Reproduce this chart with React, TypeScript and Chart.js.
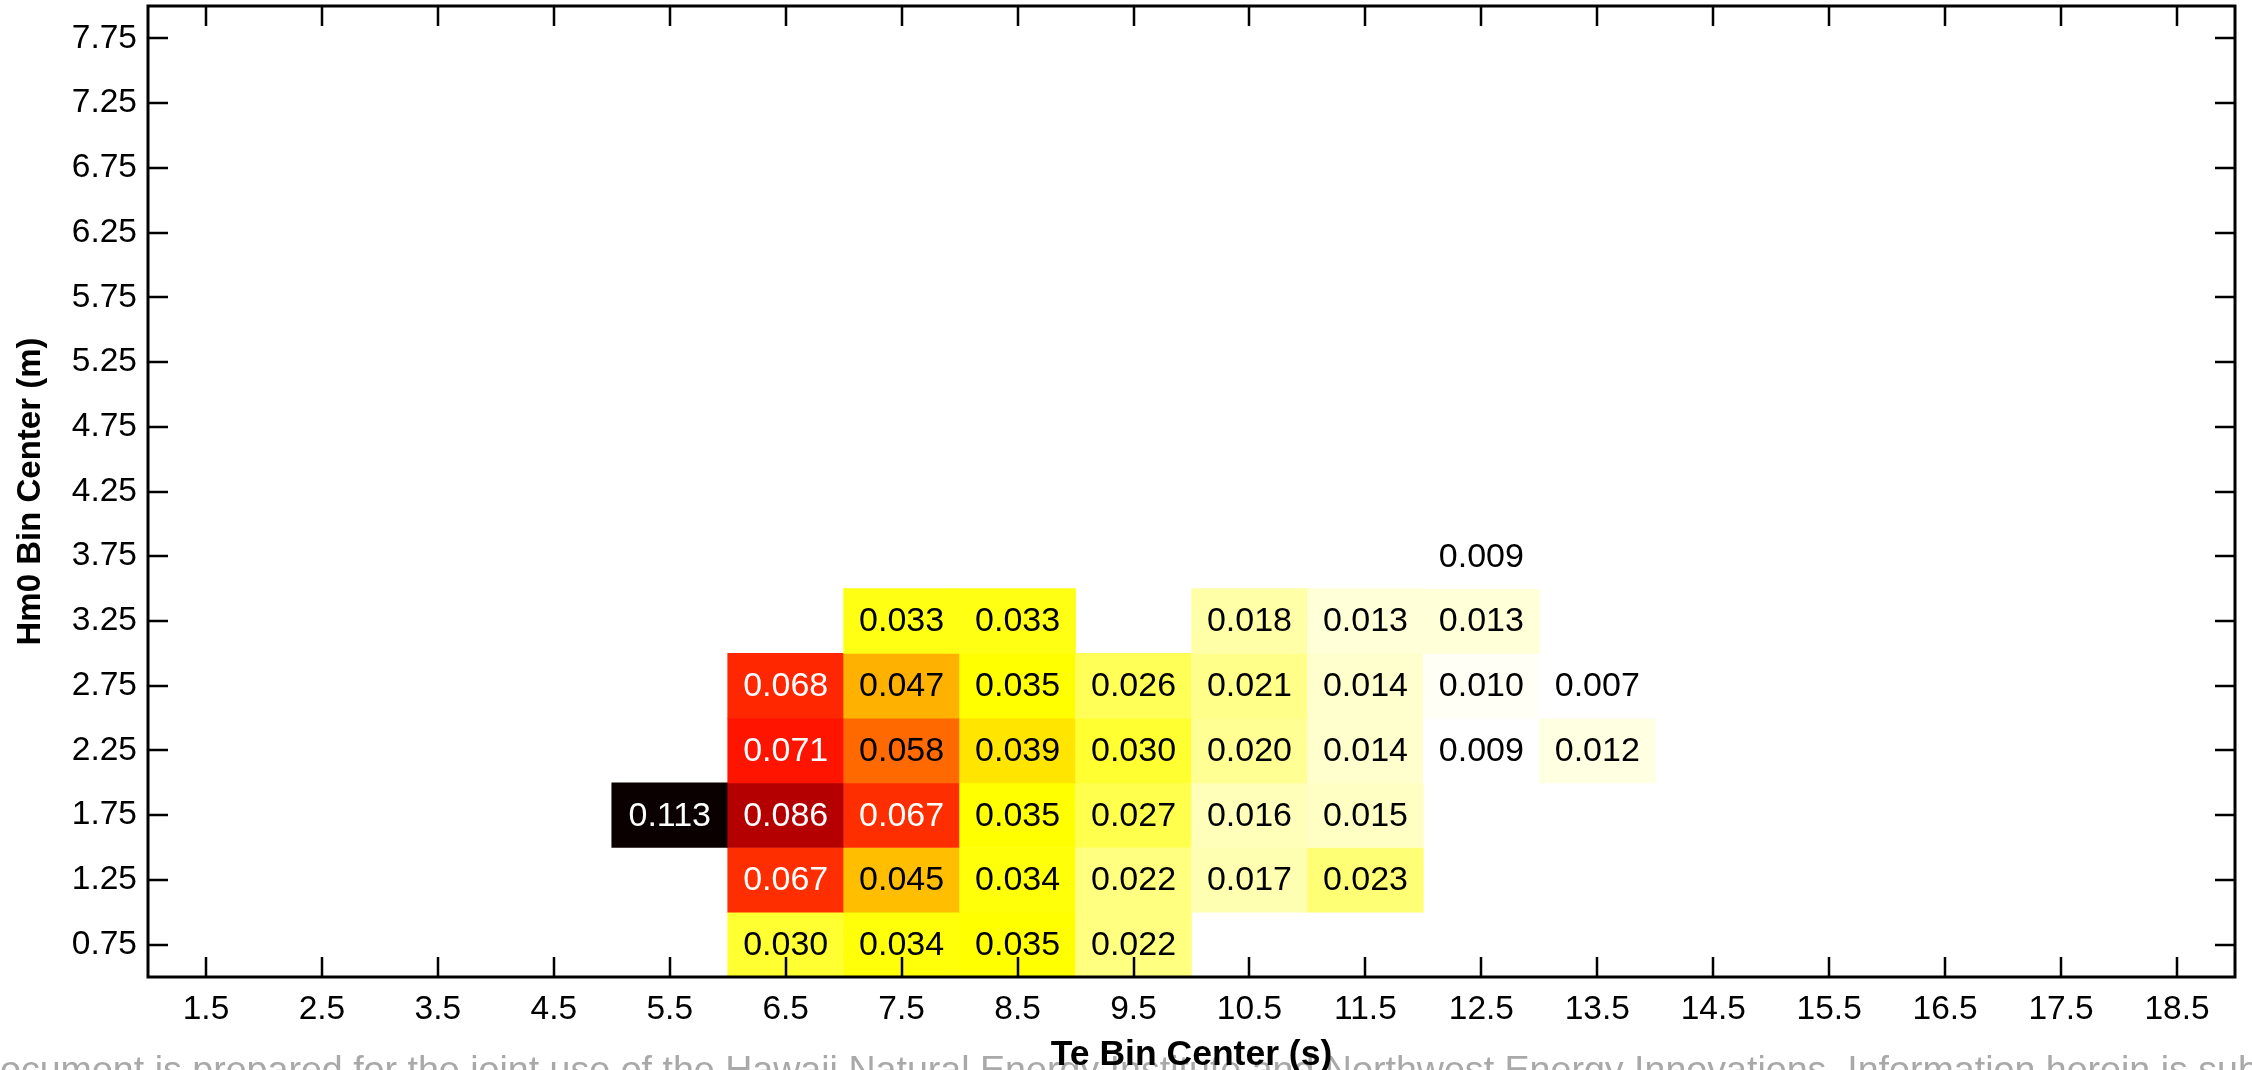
import React, { useEffect, useRef } from 'react';
import { Chart, registerables } from 'chart.js';

Chart.register(...registerables);

// ---- Axis definitions ----
const TE_TICKS = [1.5, 2.5, 3.5, 4.5, 5.5, 6.5, 7.5, 8.5, 9.5, 10.5, 11.5, 12.5, 13.5, 14.5, 15.5, 16.5, 17.5, 18.5];
const HM0_TICKS = [0.75, 1.25, 1.75, 2.25, 2.75, 3.25, 3.75, 4.25, 4.75, 5.25, 5.75, 6.25, 6.75, 7.25, 7.75];
const TE_MIN = 1;
const TE_MAX = 19;
const HM0_MIN = 0.5;
const HM0_MAX = 8;
const HM0_BIN_HALF = 0.25;

// ---- Cells (Te bin center, Hm0 bin center, frequency) ----
const CELL_TE = [
  6.5, 7.5, 8.5, 9.5,
  6.5, 7.5, 8.5, 9.5, 10.5, 11.5,
  5.5, 6.5, 7.5, 8.5, 9.5, 10.5, 11.5,
  6.5, 7.5, 8.5, 9.5, 10.5, 11.5, 12.5, 13.5,
  6.5, 7.5, 8.5, 9.5, 10.5, 11.5, 12.5, 13.5,
  7.5, 8.5, 10.5, 11.5, 12.5,
  12.5,
];
const CELL_HM0 = [
  0.75, 0.75, 0.75, 0.75,
  1.25, 1.25, 1.25, 1.25, 1.25, 1.25,
  1.75, 1.75, 1.75, 1.75, 1.75, 1.75, 1.75,
  2.25, 2.25, 2.25, 2.25, 2.25, 2.25, 2.25, 2.25,
  2.75, 2.75, 2.75, 2.75, 2.75, 2.75, 2.75, 2.75,
  3.25, 3.25, 3.25, 3.25, 3.25,
  3.75,
];
const CELL_FREQ = [
  0.030, 0.034, 0.035, 0.022,
  0.067, 0.045, 0.034, 0.022, 0.017, 0.023,
  0.113, 0.086, 0.067, 0.035, 0.027, 0.016, 0.015,
  0.071, 0.058, 0.039, 0.030, 0.020, 0.014, 0.009, 0.012,
  0.068, 0.047, 0.035, 0.026, 0.021, 0.014, 0.010, 0.007,
  0.033, 0.033, 0.018, 0.013, 0.013,
  0.009,
];

const COLOR_MIN = 0.009;
const COLOR_MAX = 0.113;
const WHITE_TEXT_FROM = 0.06;

const X_TITLE = 'Te Bin Center (s)';
const Y_TITLE = 'Hm0 Bin Center (m)';
const FOOTER_TEXT =
  'This document is prepared for the joint use of the Hawaii Natural Energy Institute and Northwest Energy Innovations. Information herein is subject to the confidentiality agreement in place between those parties.';

const FONT = "'Liberation Sans', Arial, sans-serif";

// reversed MATLAB "hot" colormap (white -> yellow -> red -> black)
function hotReversed(v: number): string {
  const t = Math.min(1, Math.max(0, (v - COLOR_MIN) / (COLOR_MAX - COLOR_MIN)));
  const s = 1 - t;
  const r0 = 0.0417;
  const r = Math.min(1, r0 + (s / 0.375) * (1 - r0));
  const g = Math.min(1, Math.max(0, (s - 0.375) / 0.375));
  const b = Math.min(1, Math.max(0, (s - 0.75) / 0.25));
  return `rgb(${Math.round(r * 255)},${Math.round(g * 255)},${Math.round(b * 255)})`;
}

const decorPlugin = {
  id: 'heatDecor',
  beforeDraw(chart: any) {
    const ctx = chart.ctx;
    ctx.save();
    const baseSize = 24;
    ctx.font = `${baseSize}px ${FONT}`;
    const probe = 'ocument is prepared for the joint use of the Hawaii Natural Energy ';
    const w = ctx.measureText(probe).width;
    const size = (baseSize * 1110) / w;
    ctx.font = `${size}px ${FONT}`;
    const lead = ctx.measureText('This d').width;
    ctx.fillStyle = '#a9a9a9';
    ctx.textAlign = 'left';
    ctx.textBaseline = 'alphabetic';
    ctx.fillText(FOOTER_TEXT, -lead, 1082);
    ctx.restore();
  },
  afterDatasetsDraw(chart: any) {
    const ctx = chart.ctx;
    const { left, right, top, bottom } = chart.chartArea;
    const xs = chart.scales.x;
    const ys = chart.scales.y;
    const meta = chart.getDatasetMeta(0);
    ctx.save();
    // cell labels
    ctx.font = `34px ${FONT}`;
    ctx.textAlign = 'center';
    ctx.textBaseline = 'middle';
    meta.data.forEach((el: any, i: number) => {
      const c = el.getCenterPoint();
      const v = CELL_FREQ[i];
      ctx.fillStyle = v >= WHITE_TEXT_FROM ? '#ffffff' : '#000000';
      ctx.fillText(v.toFixed(3), c.x, c.y + 1);
    });
    // ticks (inward, all four sides)
    ctx.strokeStyle = '#000';
    ctx.lineWidth = 2.5;
    const tl = 20;
    ctx.beginPath();
    TE_TICKS.forEach((v) => {
      const px = Math.round(xs.getPixelForValue(v));
      ctx.moveTo(px, bottom);
      ctx.lineTo(px, bottom - tl);
      ctx.moveTo(px, top);
      ctx.lineTo(px, top + tl);
    });
    HM0_TICKS.forEach((v) => {
      const py = Math.round(ys.getPixelForValue(v));
      ctx.moveTo(left, py);
      ctx.lineTo(left + tl, py);
      ctx.moveTo(right, py);
      ctx.lineTo(right - tl, py);
    });
    ctx.stroke();
    // frame
    ctx.lineWidth = 3;
    ctx.strokeRect(left, top, right - left, bottom - top);
    ctx.restore();
  },
};

export default function App() {
  const canvasRef = useRef<HTMLCanvasElement | null>(null);

  useEffect(() => {
    document.body.style.margin = '0';
    document.body.style.overflow = 'hidden';
    const canvas = canvasRef.current;
    if (!canvas) return;

    const points = CELL_TE.map((te, i) => ({
      x: te,
      y: [CELL_HM0[i] - HM0_BIN_HALF, CELL_HM0[i] + HM0_BIN_HALF],
    }));
    const colors = CELL_FREQ.map((v) => hotReversed(v));

    const chart = new Chart(canvas, {
      type: 'bar',
      data: {
        datasets: [
          {
            data: points as any,
            backgroundColor: colors,
            borderWidth: 0,
            barPercentage: 1,
            categoryPercentage: 1,
          },
        ],
      },
      options: {
        responsive: false,
        devicePixelRatio: 1,
        animation: false,
        events: [],
        layout: { padding: { top: 6, right: 17, left: 0, bottom: 0 } },
        plugins: {
          legend: { display: false },
          tooltip: { enabled: false },
        },
        scales: {
          x: {
            type: 'linear',
            position: 'bottom',
            min: TE_MIN,
            max: TE_MAX,
            offset: false,
            afterBuildTicks: (s: any) => {
              s.ticks = TE_TICKS.map((value) => ({ value }));
            },
            afterFit: (s: any) => {
              s.height = 93;
              s.paddingLeft = 0;
              s.paddingRight = 0;
            },
            grid: { display: false, drawTicks: false },
            border: { display: false },
            ticks: {
              autoSkip: false,
              maxRotation: 0,
              padding: 13,
              color: '#000',
              font: { family: FONT, size: 33.5 },
              callback: (v: any) => String(v),
            },
            title: {
              display: true,
              text: X_TITLE,
              color: '#000',
              font: { family: FONT, size: 35.5, weight: 'bold', lineHeight: 0.8 },
              padding: { top: 0, bottom: 1 },
            },
          },
          y: {
            type: 'linear',
            position: 'left',
            min: HM0_MIN,
            max: HM0_MAX,
            afterBuildTicks: (s: any) => {
              s.ticks = HM0_TICKS.map((value) => ({ value }));
            },
            afterFit: (s: any) => {
              s.width = 148;
              s.paddingTop = 0;
              s.paddingBottom = 0;
            },
            grid: { display: false, drawTicks: false },
            border: { display: false },
            ticks: {
              autoSkip: false,
              padding: 11,
              color: '#000',
              font: { family: FONT, size: 33.5 },
              callback: (v: any) => Number(v).toFixed(2),
            },
            title: {
              display: true,
              text: Y_TITLE,
              color: '#000',
              font: { family: FONT, size: 33, weight: 'bold' },
              padding: { top: 11, bottom: 0 },
            },
          },
        },
      },
      plugins: [decorPlugin],
    } as any);

    return () => {
      chart.destroy();
    };
  }, []);

  return (
    <div style={{ width: 2252, height: 1070, position: 'relative', background: '#fff' }}>
      <canvas ref={canvasRef} width={2252} height={1070} style={{ display: 'block' }} />
    </div>
  );
}
